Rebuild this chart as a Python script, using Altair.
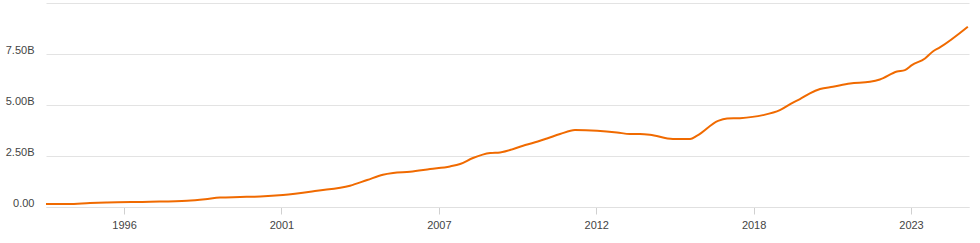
import altair as alt
import pandas as pd

years = [1993.32, 1994.08, 1994.83, 1995.42, 1996.89, 1998.16, 1998.78, 1999.29, 1999.98,
         2000.67, 2001.45, 2002.62, 2003.75, 2004.34, 2004.88, 2005.23, 2005.81, 2006.50,
         2007.18, 2007.53, 2007.97, 2008.56, 2008.90, 2009.69, 2010.27, 2010.51, 2010.96,
         2011.47, 2012.23, 2012.91, 2013.36, 2013.70, 2014.04, 2014.83, 2015.42, 2015.66,
         2016.38, 2016.69, 2017.13, 2017.92, 2018.50, 2018.95, 2019.19, 2019.53, 2019.88,
         2020.32, 2020.91, 2021.59, 2021.93, 2022.52, 2022.79, 2023.03, 2023.48, 2023.75,
         2023.99, 2024.95]
values_b = [0.147, 0.147, 0.196, 0.225, 0.260, 0.309, 0.382, 0.466, 0.490,
            0.515, 0.588, 0.799, 1.044, 1.323, 1.583, 1.666, 1.730, 1.862,
            1.990, 2.107, 2.401, 2.646, 2.675, 3.004, 3.249, 3.361, 3.577,
            3.773, 3.739, 3.655, 3.577, 3.577, 3.543, 3.332, 3.332, 3.494,
            4.223, 4.336, 4.356, 4.503, 4.748, 5.120, 5.291, 5.572, 5.782,
            5.895, 6.056, 6.140, 6.252, 6.644, 6.712, 6.958, 7.281, 7.624,
            7.820, 8.833]
x_ticks = [1996.0, 2001.4, 2006.8, 2012.2, 2017.6, 2023.0]
y_ticks = [0, 2.5, 5, 7.5, 10]

df = pd.DataFrame({"year": years, "value": values_b})

font = "Liberation Sans"

chart = alt.Chart(df).mark_line(
    color="#f06a00", strokeWidth=2, interpolate="monotone"
).encode(
    x=alt.X("year:Q",
            scale=alt.Scale(domain=[1993.32, 2024.99], nice=False, zero=False),
            axis=alt.Axis(values=x_ticks, title=None, grid=False,
                          labelExpr="format(round(datum.value), 'd')",
                          domainColor="#e0e0e0", domainWidth=1,
                          tickColor="#d0d0d0", tickSize=7, tickWidth=1,
                          labelColor="#444444", labelFont=font, labelFontSize=11,
                          labelPadding=5, labelFlush=False)),
    y=alt.Y("value:Q",
            scale=alt.Scale(domain=[0, 10], nice=False),
            axis=alt.Axis(values=y_ticks, title=None, grid=True,
                          gridColor="#e3e3e3", gridWidth=1,
                          domain=False, ticks=False,
                          labelExpr="datum.value == 0 ? '0.00' : (datum.value >= 10 ? '' : format(datum.value, '.2f') + 'B')",
                          labelColor="#444444", labelFont=font, labelFontSize=11,
                          labelPadding=12, labelOffset=-4)),
).properties(
    width=923, height=204,
    autosize=alt.AutoSizeParams(type="none"),
    padding={"left": 46, "top": 3, "right": 11, "bottom": 36},
).configure_view(stroke=None)

chart.save("out.html", embed_options={"renderer": "svg", "actions": False})
